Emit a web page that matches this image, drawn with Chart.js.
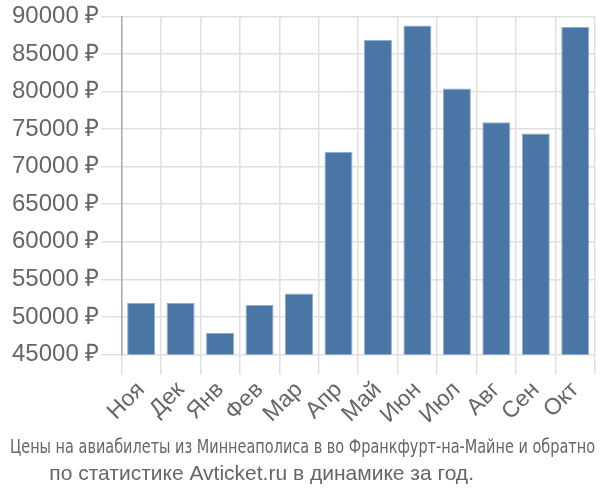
<!DOCTYPE html>
<html>
<head>
<meta charset="utf-8">
<script src="https://cdn.jsdelivr.net/npm/chart.js@4"></script>
<style>
  html, body { margin: 0; padding: 0; background: #fff; }
  #wrap { width: 600px; height: 500px; }
</style>
</head>
<body>
<div id="wrap"><canvas id="myCanvas" width="600" height="500"></canvas></div>
<script>
const months = ['Ноя', 'Дек', 'Янв', 'Фев', 'Мар', 'Апр', 'Май', 'Июн', 'Июл', 'Авг', 'Сен', 'Окт']
const prices = [51900, 51900, 47900, 51600, 53100, 72000, 86900, 88800, 80400, 75900, 74400, 88600]
const yMin = 45000
const yMax = 90000
const yStep = 5000
const titleLine1 = 'Цены на авиабилеты из Миннеаполиса в во Франкфурт-на-Майне и обратно'
const titleLine2 = 'по статистике Avticket.ru в динамике за год.'

document.addEventListener('DOMContentLoaded', ()=> {
  createBarChart(months, prices)
})

function createBarChart(labels, values) {
  const context = document.getElementById('myCanvas').getContext('2d')

  new Chart(context, {
    type: 'bar',
    data: {
      labels: labels,
      datasets: [{
        data: values,
        backgroundColor: '#4a76a6',
        borderColor: '#93add0',
        borderWidth: 1,
        barPercentage: 0.71,
        categoryPercentage: 1
      }]
    },
    options: {
      responsive: false,
      animation: false,
      layout: { padding: { top: 4, right: 5, left: 10, bottom: 0 } },
      plugins: {
        legend: { display: false },
        tooltip: { enabled: false },
        subtitle: {
          display: true,
          position: 'bottom',
          text: titleLine1,
          color: '#666',
          font: { family: "'Liberation Sans Narrow', 'DejaVu Sans Condensed', 'Roboto Condensed', sans-serif", size: 19, weight: 'normal' },
          padding: { top: 6, bottom: 2 }
        },
        title: {
          display: true,
          position: 'bottom',
          text: titleLine2 + '              ',
          color: '#666',
          font: { family: "'Liberation Sans', Arial, sans-serif", size: 21, weight: 'normal' },
          padding: { top: 0, bottom: 13 }
        }
      },
      scales: {
        x: {
          offset: true,
          grid: { offset: true, color: '#e0e0e0', lineWidth: 1.5, tickLength: 20 },
          border: { color: '#e0e0e0' },
          ticks: {
            color: '#666',
            autoSkip: false,
            maxRotation: 45,
            minRotation: 45,
            padding: 2,
            font: { family: "'Liberation Sans', Arial, sans-serif", size: 23 }
          }
        },
        y: {
          min: yMin,
          max: yMax,
          grid: { color: '#e0e0e0', lineWidth: 1.5, tickLength: 20 },
          border: { color: '#aaa', width: 1.5 },
          ticks: {
            stepSize: yStep,
            color: '#666',
            padding: 2,
            font: { family: "'Liberation Sans', Arial, sans-serif", size: 24 },
            callback: (v)=> v + ' ₽'
          }
        }
      }
    }
  })
}
</script>
</body>
</html>
